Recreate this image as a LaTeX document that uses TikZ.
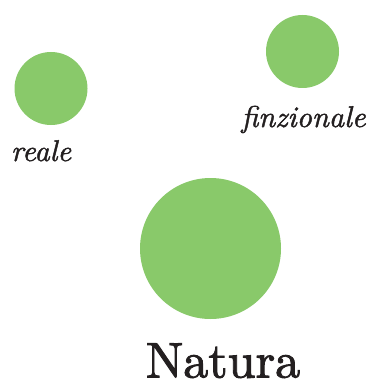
\documentclass[tikz,border=0pt]{standalone}
\usepackage{fontspec}
\newfontfamily\natfont{lmroman10-regular}[Extension=.otf,FakeBold=1.8]
\newfontfamily\itfont{lmroman10-italic}[Extension=.otf,FakeBold=1.4]
\definecolor{leaf}{RGB}{137,201,106}
\definecolor{ink}{RGB}{35,31,32}
\tikzset{
  dot/.style={circle, fill=leaf, draw=none, inner sep=0pt},
  lab/.style={anchor=base, inner sep=0pt, text=ink},
  itlab/.style={lab, font=\itfont\fontsize{30}{30}\selectfont},
}
\begin{document}
\begin{tikzpicture}[x=1pt,y=-1pt]
\useasboundingbox (0,0) rectangle (371,385);
\node[dot, minimum size=73pt] (reale) at (51,88.5) {};
\node[dot, minimum size=73pt] (finz) at (302.5,51.5) {};
\node[dot, minimum size=141pt] (nat) at (210.5,248.5) {};
\node[itlab] (lr) at (41,161) {reale};
\node[itlab] (lf) at (303.5,127) {finzionale};
\node[lab, font=\natfont\fontsize{50}{50}\selectfont] (ln) at (223,377.5) {Natura};
\end{tikzpicture}
\end{document}
